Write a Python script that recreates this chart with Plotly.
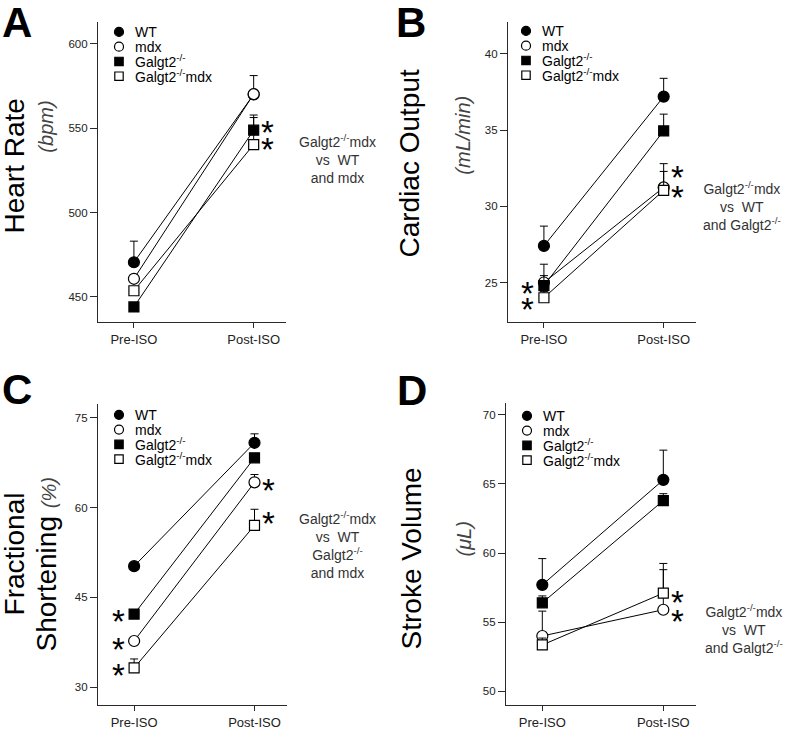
import plotly.graph_objects as go

W, H = 788, 730

phases = ['Pre-ISO', 'Post-ISO']
groups = ['WT', 'mdx', 'Galgt2', 'Galgt2mdx']
group_labels = ['WT', 'mdx', 'Galgt2<sup>-/-</sup>', 'Galgt2<sup>-/-</sup>mdx']

# panel A - heart rate (bpm)
hr_wt = [470.5, 570.0]
hr_mdx = [460.7, 570.2]
hr_galgt2 = [444.0, 548.8]
hr_galgt2mdx = [453.6, 540.3]
hr_err_wt = [12.5, 0.0]
hr_err_mdx = [2.0, 11.0]
hr_err_galgt2 = [2.0, 9.0]
hr_err_galgt2mdx = [2.0, 16.0]

# panel B - cardiac output (mL/min)
co_wt = [27.4, 37.2]
co_mdx = [25.0, 31.24]
co_galgt2 = [24.8, 34.95]
co_galgt2mdx = [24.0, 31.05]
co_err_wt = [1.3, 1.2]
co_err_mdx = [0.45, 1.05]
co_err_galgt2 = [1.4, 1.1]
co_err_galgt2mdx = [0.4, 1.75]

# panel C - fractional shortening (%)
fs_wt = [50.2, 70.8]
fs_mdx = [37.7, 64.2]
fs_galgt2 = [42.2, 68.3]
fs_galgt2mdx = [33.2, 57.0]
fs_err_wt = [0.5, 1.5]
fs_err_mdx = [0.5, 1.3]
fs_err_galgt2 = [0.6, 0.5]
fs_err_galgt2mdx = [1.5, 2.7]

# panel D - stroke volume (uL)
sv_wt = [57.7, 65.3]
sv_mdx = [54.0, 55.9]
sv_galgt2 = [56.4, 63.8]
sv_galgt2mdx = [53.35, 57.1]
sv_err_wt = [1.9, 2.15]
sv_err_mdx = [1.8, 2.9]
sv_err_galgt2 = [0.5, 0.5]
sv_err_galgt2mdx = [0.5, 2.15]

# significance stars: (phase, value level)
stars_a = [('Post-ISO', 552.5), ('Post-ISO', 542.5)]
stars_b = [('Post-ISO', 32.5), ('Post-ISO', 31.2), ('Pre-ISO', 24.9), ('Pre-ISO', 23.8)]
stars_c = [('Post-ISO', 64.4), ('Post-ISO', 58.8), ('Pre-ISO', 42.4), ('Pre-ISO', 37.8), ('Pre-ISO', 33.4)]
stars_d = [('Post-ISO', 57.1), ('Post-ISO', 55.7)]

NBSP = '\u00a0'
panels = [
    dict(
        letter='A', title='Heart Rate', unit='(bpm)',
        values=[hr_wt, hr_mdx, hr_galgt2, hr_galgt2mdx],
        errors=[hr_err_wt, hr_err_mdx, hr_err_galgt2, hr_err_galgt2mdx],
        yrange=[435, 613], ticks=[450, 500, 550, 600], stars=stars_a,
        note=f'Galgt2<sup>-/-</sup>mdx<br>vs{NBSP}{NBSP}WT<br>and mdx',
        box=(98, 286, 22, 323), legend=(119, 32),
        title_pos=(15, 167), unit_pos=(46, 127), note_pos=(337, 159), letter_pos=(17, 23),
    ),
    dict(
        letter='B', title='Cardiac Output', unit='(mL/min)',
        values=[co_wt, co_mdx, co_galgt2, co_galgt2mdx],
        errors=[co_err_wt, co_err_mdx, co_err_galgt2, co_err_galgt2mdx],
        yrange=[22.4, 42.1], ticks=[25, 30, 35, 40], stars=stars_b,
        note=f'Galgt2<sup>-/-</sup>mdx<br>vs{NBSP}{NBSP}WT<br>and Galgt2<sup>-/-</sup>',
        box=(508, 696, 22, 323), legend=(526, 31),
        title_pos=(410, 163), unit_pos=(463, 135), note_pos=(742, 207), letter_pos=(411, 23),
    ),
    dict(
        letter='C', title='Fractional', unit=None,
        values=[fs_wt, fs_mdx, fs_galgt2, fs_galgt2mdx],
        errors=[fs_err_wt, fs_err_mdx, fs_err_galgt2, fs_err_galgt2mdx],
        yrange=[27, 77.3], ticks=[30, 45, 60, 75], stars=stars_c,
        note='Galgt2<sup>-/-</sup>mdx<br>vs' + NBSP * 2 + 'WT<br>Galgt2<sup>-/-</sup><br>and mdx',
        box=(98, 287, 405, 707), legend=(119, 416),
        title_pos=(14, 556), unit_pos=(46, 566), note_pos=(337, 546), letter_pos=(17, 391),
    ),
    dict(
        letter='D', title='Stroke Volume', unit='(\u03bcL)',
        values=[sv_wt, sv_mdx, sv_galgt2, sv_galgt2mdx],
        errors=[sv_err_wt, sv_err_mdx, sv_err_galgt2, sv_err_galgt2mdx],
        yrange=[49.0, 70.87], ticks=[50, 55, 60, 65, 70], stars=stars_d,
        note=f'Galgt2<sup>-/-</sup>mdx<br>vs{NBSP}{NBSP}WT<br>and Galgt2<sup>-/-</sup>',
        box=(506, 696, 404, 707), legend=(527, 417),
        title_pos=(411, 560), unit_pos=(464, 541), note_pos=(744, 631), letter_pos=(412, 392),
    ),
]

FONT = 'Liberation Sans, Arial, sans-serif'
AXIS_COLOR = '#2a2a2a'
symbols = ['circle', 'circle', 'square', 'square']
fills = ['black', 'white', 'black', 'white']
sizes = [11, 11, 10, 10]


def px(x):
    return x / W


def py(y):
    return 1 - y / H


fig = go.Figure()
annotations = []
shapes = []

for i, p in enumerate(panels):
    n = '' if i == 0 else str(i + 1)
    xa, ya = 'x' + n, 'y' + n
    left, right, top, bottom = p['box']

    for g, vals, errs, sym, fill, size in zip(groups, p['values'], p['errors'], symbols, fills, sizes):
        fig.add_trace(
            go.Scatter(
                x=phases,
                y=vals,
                name=g,
                mode='lines+markers',
                xaxis=xa,
                yaxis=ya,
                line=dict(color='black', width=1),
                marker=dict(symbol=sym, size=size, color=fill, line=dict(color='black', width=1.2)),
                error_y=dict(
                    type='data', symmetric=False, array=errs, arrayminus=[0, 0],
                    color='black', thickness=1, width=4,
                ),
                showlegend=False,
            )
        )

    fig.layout['xaxis' + n] = dict(
        domain=[px(left), px(right)],
        anchor=ya,
        type='category',
        range=[-0.3, 1.27],
        showline=True, linecolor=AXIS_COLOR, linewidth=1.2,
        ticks='outside', ticklen=5, tickcolor=AXIS_COLOR,
        tickfont=dict(family=FONT, size=13, color='#222'),
        showgrid=False, zeroline=False,
    )
    fig.layout['yaxis' + n] = dict(
        domain=[py(bottom), py(top)],
        anchor=xa,
        range=p['yrange'],
        tickvals=p['ticks'],
        showline=True, linecolor=AXIS_COLOR, linewidth=1.2,
        ticks='outside', ticklen=7, tickcolor=AXIS_COLOR,
        tickfont=dict(family=FONT, size=11.5, color='#222'),
        showgrid=False, zeroline=False,
    )

    # panel letter
    lx, ly = p['letter_pos']
    annotations.append(dict(
        text=f'<b>{p["letter"]}</b>', x=px(lx), y=py(ly), xref='paper', yref='paper',
        xanchor='center', yanchor='middle', showarrow=False,
        font=dict(family=FONT, size=42, color='black'),
    ))

    # axis titles
    tx, ty = p['title_pos']
    annotations.append(dict(
        text=p['title'], x=px(tx), y=py(ty), xref='paper', yref='paper', textangle=-90,
        xanchor='center', yanchor='middle', showarrow=False,
        font=dict(family=FONT, size=28, color='black'),
    ))
    ux, uy = p['unit_pos']
    if p['unit']:
        unit_text = f'<i>{p["unit"]}</i>'
        unit_font = dict(family=FONT, size=20, color='#444')
    else:
        unit_text = "Shortening <i><span style='font-size:20px;color:#444'>(%)</span></i>"
        unit_font = dict(family=FONT, size=28, color='black')
    annotations.append(dict(
        text=unit_text, x=px(ux), y=py(uy), xref='paper', yref='paper', textangle=-90,
        xanchor='center', yanchor='middle', showarrow=False, font=unit_font,
    ))

    # comparison note
    nx, ny = p['note_pos']
    annotations.append(dict(
        text=p['note'], x=px(nx), y=py(ny), xref='paper', yref='paper',
        xanchor='center', yanchor='middle', showarrow=False, align='center',
        font=dict(family=FONT, size=14, color='#333'),
    ))

    # legend
    mx, my = p['legend']
    for k, (label, sym, fill) in enumerate(zip(group_labels, symbols, fills)):
        yy = my + k * 14.8
        half = 4.5 if sym == 'circle' else 4.2
        shapes.append(dict(
            type='circle' if sym == 'circle' else 'rect',
            xref='paper', yref='paper', xsizemode='pixel', ysizemode='pixel',
            xanchor=px(mx), yanchor=py(yy), x0=-half, x1=half, y0=-half, y1=half,
            line=dict(color='black', width=1.2), fillcolor=fill,
        ))
        annotations.append(dict(
            text=label, x=px(mx + 14), y=py(yy), xref='paper', yref='paper',
            xanchor='left', yanchor='middle', showarrow=False,
            font=dict(family=FONT, size=14, color='black'),
        ))

    # significance stars
    for phase, level in p['stars']:
        annotations.append(dict(
            text='*', x=phase, y=level, xref=xa, yref=ya,
            xanchor='center', yanchor='middle', showarrow=False,
            xshift=14 if phase == 'Post-ISO' else -16, yshift=-9,
            font=dict(family=FONT, size=33, color='black'),
        ))

fig.update_layout(
    width=W,
    height=H,
    margin=dict(l=0, r=0, t=0, b=0),
    paper_bgcolor='white',
    plot_bgcolor='white',
    showlegend=False,
    annotations=annotations,
    shapes=shapes,
    font=dict(family=FONT),
)

fig.write_html(
    'out.html',
    config={'displayModeBar': False},
    post_script="document.body.style.margin = '0';",
)
